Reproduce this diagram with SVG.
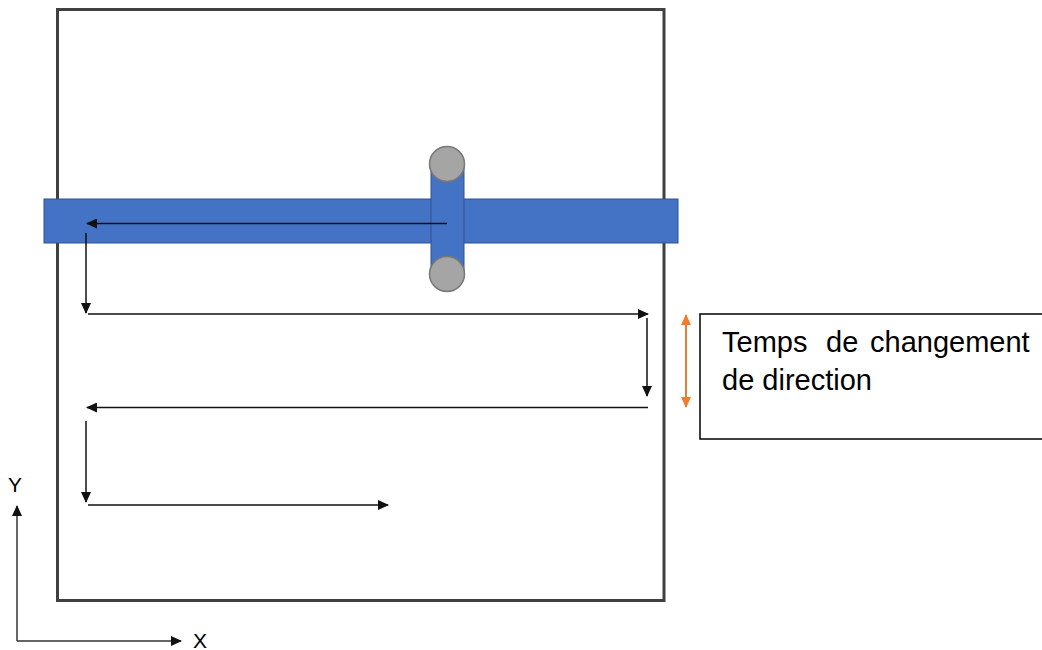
<svg xmlns="http://www.w3.org/2000/svg" width="1042" height="650" viewBox="0 0 1042 650">
  <style>
    .conn { stroke: #111; stroke-width: 1.5; fill: none; }
    .blue { fill: #4472C4; stroke: #2F528F; stroke-width: 1; }
    .wheel { fill: #A5A5A5; stroke: #787878; stroke-width: 1.5; }
    .lbl { font-family: "Liberation Sans", Arial, sans-serif; fill: #000; }
  </style>
  <defs>
    <marker id="ah" markerUnits="userSpaceOnUse" markerWidth="12" markerHeight="10" refX="10" refY="5" orient="auto">
      <path d="M0,0 L11,5 L0,10 Z" fill="#111"/>
    </marker>
    <marker id="ao" markerUnits="userSpaceOnUse" markerWidth="12" markerHeight="10" refX="10" refY="5" orient="auto-start-reverse">
      <path d="M0,0 L11,5 L0,10 Z" fill="#ED7D31"/>
    </marker>
  </defs>
  <rect width="1042" height="650" fill="#fff"/>
  <g id="plate">
    <rect x="57.5" y="9.5" width="606.5" height="591" fill="none" stroke="#404040" stroke-width="3"/>
  </g>
  <g id="gantry">
    <rect class="blue" x="44" y="199" width="634" height="44"/>
    <rect class="blue" x="431" y="164" width="33" height="110"/>
    <circle class="wheel" cx="447" cy="164" r="17.5"/>
    <circle class="wheel" cx="447" cy="274" r="17.5"/>
  </g>
  <g id="connectors">
    <line class="conn" x1="447" y1="223.5" x2="87" y2="223.5" marker-end="url(#ah)"/>
    <line class="conn" x1="86" y1="233" x2="86" y2="313" marker-end="url(#ah)"/>
    <line class="conn" x1="88" y1="314" x2="648" y2="314" marker-end="url(#ah)"/>
    <line class="conn" x1="647" y1="318" x2="647" y2="396" marker-end="url(#ah)"/>
    <line class="conn" x1="648" y1="407.5" x2="87" y2="407.5" marker-end="url(#ah)"/>
    <line class="conn" x1="86" y1="421" x2="86" y2="502" marker-end="url(#ah)"/>
    <line class="conn" x1="88" y1="505" x2="388" y2="505" marker-end="url(#ah)"/>
    <line x1="686" y1="315" x2="686" y2="407" stroke="#ED7D31" stroke-width="2" marker-start="url(#ao)" marker-end="url(#ao)"/>
  </g>
  <g id="note">
    <rect x="700" y="314" width="360" height="125" fill="#fff" stroke="#000" stroke-width="1.5"/>
    <text class="lbl" font-size="29" y="352"><tspan x="722">Temps</tspan><tspan x="826">de</tspan><tspan x="870">changement</tspan></text>
    <text class="lbl" font-size="29" x="722" y="390">de direction</text>
  </g>
  <g id="axes">
    <line x1="17" y1="641" x2="17" y2="506" stroke="#333" stroke-width="1.5" marker-end="url(#ah)"/>
    <line x1="17" y1="641" x2="181" y2="641" stroke="#333" stroke-width="1.5" marker-end="url(#ah)"/>
    <text class="lbl" font-size="21" x="8" y="492" fill="#222">Y</text>
    <text class="lbl" font-size="21" x="193" y="648" fill="#222">X</text>
  </g>
</svg>
